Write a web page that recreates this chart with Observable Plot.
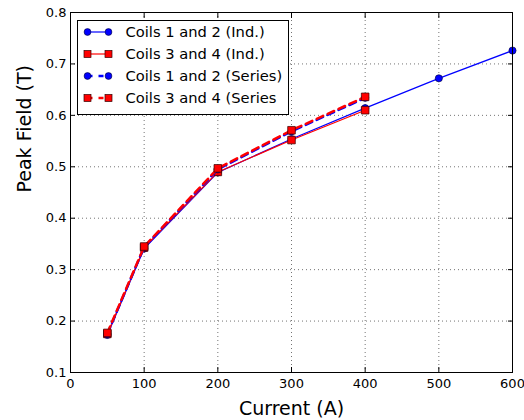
<!DOCTYPE html>
<html>
<head>
<meta charset="utf-8">
<script src="https://cdn.jsdelivr.net/npm/d3@7"></script>
<script src="https://cdn.jsdelivr.net/npm/@observablehq/plot@0.6"></script>
<style>
  html, body { margin: 0; padding: 0; background: #fff; }
  #chart { position: relative; width: 524px; height: 420px; }
  svg { font-family: "DejaVu Sans", sans-serif; }
</style>
</head>
<body>
<div id="chart"></div>
<script>
const currentAll = [50, 100, 200, 300, 400, 500, 600];
const current34 = [50, 100, 200, 300, 400];
const coils12Ind = [0.173, 0.341, 0.489, 0.554, 0.614, 0.672, 0.726];
const coils34Ind = [0.175, 0.343, 0.490, 0.552, 0.610];
const coils12Series = [0.175, 0.344, 0.495, 0.569, 0.634];
const coils34Series = [0.177, 0.345, 0.497, 0.571, 0.636];
const xTicks = [0, 100, 200, 300, 400, 500, 600];
const yTicks = [0.1, 0.2, 0.3, 0.4, 0.5, 0.6, 0.7, 0.8];
const seriesNames = ["Coils 1 and 2 (Ind.)", "Coils 3 and 4 (Ind.)", "Coils 1 and 2 (Series)", "Coils 3 and 4 (Series"];

const toRows = (xs, ys) => xs.map((x, i) => ({x, y: ys[i]}));
const s12i = toRows(currentAll, coils12Ind);
const s34i = toRows(current34, coils34Ind);
const s12s = toRows(current34, coils12Series);
const s34s = toRows(current34, coils34Series);

const blue = "#0000ff", red = "#ff0000";
const gridX = xTicks.slice(1, -1), gridY = yTicks.slice(1, -1);

const plot = Plot.plot({
  width: 524,
  height: 420,
  marginLeft: 70,
  marginRight: 12,
  marginTop: 12,
  marginBottom: 48,
  style: {fontFamily: "DejaVu Sans, sans-serif", fontSize: "13px", color: "#000", background: "#fff"},
  x: {domain: [0, 600]},
  y: {domain: [0.1, 0.8]},
  marks: [
    Plot.ruleX(gridX, {x: d => d, stroke: "#000", strokeOpacity: 0.55, strokeDasharray: "1,3", strokeWidth: 1}),
    Plot.ruleY(gridY, {y: d => d, stroke: "#000", strokeOpacity: 0.55, strokeDasharray: "1,3", strokeWidth: 1}),
    Plot.axisX({ticks: xTicks, tickSize: -5, tickPadding: 11, tickFormat: d3.format("d"), label: null, fontSize: 13}),
    Plot.axisX({anchor: "top", ticks: xTicks, tickSize: -5, tickFormat: () => "", label: null}),
    Plot.axisY({ticks: yTicks, tickSize: -5, tickPadding: 9, tickFormat: d3.format(".1f"), label: null, fontSize: 13}),
    Plot.axisY({anchor: "right", ticks: yTicks, tickSize: -5, tickFormat: () => "", label: null}),
    Plot.line(s12i, {x: "x", y: "y", stroke: blue, strokeWidth: 1.2}),
    Plot.dot(s12i, {x: "x", y: "y", r: 3.6, fill: blue, stroke: "#000033", strokeWidth: 0.6}),
    Plot.line(s34i, {x: "x", y: "y", stroke: red, strokeWidth: 1.2}),
    Plot.dot(s34i, {x: "x", y: "y", symbol: "square", r: 4.3, fill: red, stroke: "#330000", strokeWidth: 0.7}),
    Plot.line(s12s, {x: "x", y: "y", stroke: blue, strokeWidth: 2.5, strokeDasharray: "7,5"}),
    Plot.dot(s12s, {x: "x", y: "y", r: 3.6, fill: blue, stroke: "#000033", strokeWidth: 0.6}),
    Plot.line(s34s, {x: "x", y: "y", stroke: red, strokeWidth: 2.5, strokeDasharray: "7,5"}),
    Plot.dot(s34s, {x: "x", y: "y", symbol: "square", r: 4.3, fill: red, stroke: "#330000", strokeWidth: 0.7}),
    Plot.frame({stroke: "#000", strokeWidth: 1}),
    Plot.text(["Current (A)"], {frameAnchor: "bottom", dy: 36, text: d => d, fontSize: 19, fill: "#000", lineAnchor: "middle"}),
    Plot.text(["Peak Field (T)"], {frameAnchor: "left", dx: -46, rotate: -90, text: d => d, fontSize: 19, fill: "#000", lineAnchor: "middle"})
  ]
});

document.getElementById("chart").appendChild(plot);

// Legend drawn into the plot's SVG
const svg = d3.select(plot);
const lg = svg.append("g").attr("transform", "translate(77.5,20.5)").attr("text-anchor", "start");
lg.append("rect").attr("width", 211).attr("height", 94).attr("fill", "#fff").attr("stroke", "#000").attr("stroke-width", 1);
const styles = [
  {color: blue, dash: null, w: 1.2, sym: "circle"},
  {color: red, dash: null, w: 1.2, sym: "square"},
  {color: blue, dash: "5,6", w: 2.5, sym: "circle"},
  {color: red, dash: "5,6", w: 2.5, sym: "square"}
];
seriesNames.forEach((name, i) => {
  const y = 11.5 + i * 22;
  const st = styles[i];
  const g = lg.append("g").attr("transform", `translate(0,${y})`);
  const ln = g.append("line").attr("x1", 10).attr("x2", 31).attr("y1", 0).attr("y2", 0)
    .attr("stroke", st.color).attr("stroke-width", st.w);
  if (st.dash) ln.attr("stroke-dasharray", st.dash);
  [10, 31].forEach(cx => {
    if (st.sym === "circle") {
      g.append("circle").attr("cx", cx).attr("cy", 0).attr("r", 3.4).attr("fill", st.color).attr("stroke", "#000033").attr("stroke-width", 0.6);
    } else {
      g.append("rect").attr("x", cx - 3.5).attr("y", -3.5).attr("width", 7).attr("height", 7).attr("fill", st.color).attr("stroke", "#330000").attr("stroke-width", 0.7);
    }
  });
  g.append("text").attr("x", 48).attr("y", 0).attr("dy", "0.35em").attr("font-size", 14.7).attr("fill", "#000").attr("text-anchor", "start").text(name);
});
</script>
</body>
</html>
